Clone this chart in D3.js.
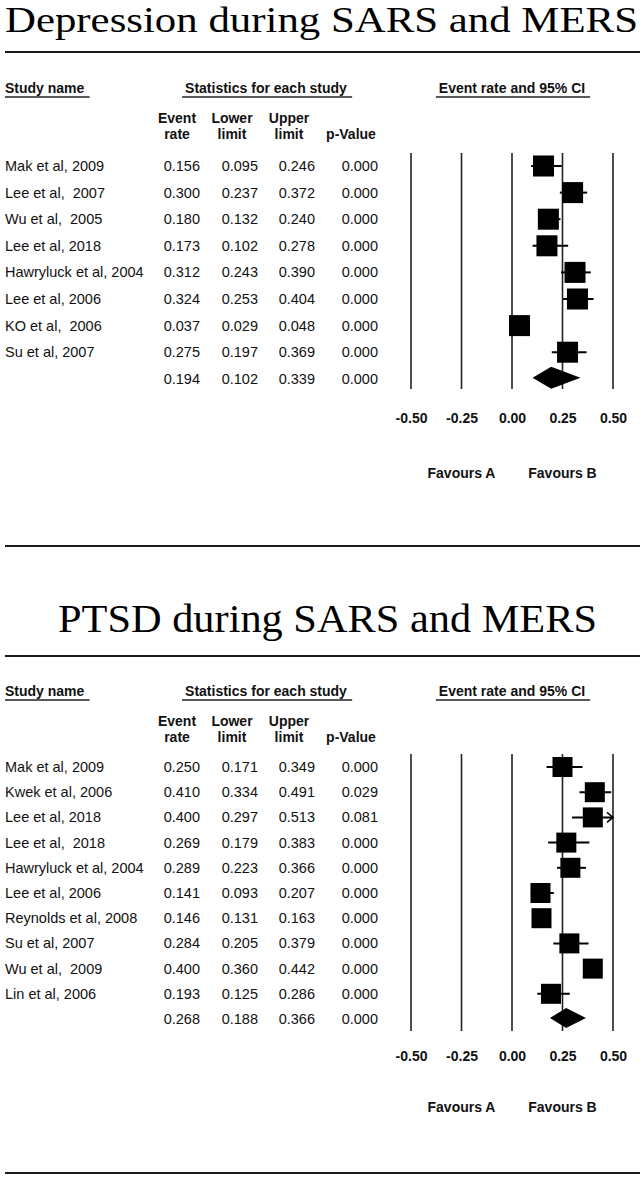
<!DOCTYPE html>
<html>
<head>
<meta charset="utf-8">
<script src="https://cdn.jsdelivr.net/npm/d3@7"></script>
<style>
html,body{margin:0;padding:0;background:#fff;}
svg{display:block;}
</style>
</head>
<body>
<svg id="chart" width="644" height="1180"></svg>
<script>
// ---------- DATA ----------
const depTitle = "Depression during SARS and MERS";
const depNames = ["Mak et al, 2009","Lee et al,  2007","Wu et al,  2005","Lee et al, 2018","Hawryluck et al, 2004","Lee et al, 2006","KO et al,  2006","Su et al, 2007"];
const depRate  = [0.156,0.300,0.180,0.173,0.312,0.324,0.037,0.275];
const depLower = [0.095,0.237,0.132,0.102,0.243,0.253,0.029,0.197];
const depUpper = [0.246,0.372,0.240,0.278,0.390,0.404,0.048,0.369];
const depP     = [0.000,0.000,0.000,0.000,0.000,0.000,0.000,0.000];
const depSummary = [0.194,0.102,0.339,0.000]; // rate, lower, upper, p

const ptsdTitle = "PTSD during SARS and MERS";
const ptsdNames = ["Mak et al, 2009","Kwek et al, 2006","Lee et al, 2018","Lee et al,  2018","Hawryluck et al, 2004","Lee et al, 2006","Reynolds et al, 2008","Su et al, 2007","Wu et al,  2009","Lin et al, 2006"];
const ptsdRate  = [0.250,0.410,0.400,0.269,0.289,0.141,0.146,0.284,0.400,0.193];
const ptsdLower = [0.171,0.334,0.297,0.179,0.223,0.093,0.131,0.205,0.360,0.125];
const ptsdUpper = [0.349,0.491,0.513,0.383,0.366,0.207,0.163,0.379,0.442,0.286];
const ptsdP     = [0.000,0.029,0.081,0.000,0.000,0.000,0.000,0.000,0.000,0.000];
const ptsdSummary = [0.268,0.188,0.366,0.000];

const tickValues = [-0.50,-0.25,0.00,0.25,0.50];
const favourLabels = ["Favours A","Favours B"];
const favourAt = [-0.25,0.25];
const colHeads = [["Event","rate"],["Lower","limit"],["Upper","limit"],["","p-Value"]];
const groupHeads = ["Study name","Statistics for each study","Event rate and 95% CI"];

// ---------- LAYOUT ----------
const svg = d3.select("#chart");
const sans = "'Liberation Sans', Arial, Helvetica, sans-serif";
const serif = "'Liberation Serif', 'Times New Roman', serif";
const ink = "#111";
const fmt = d3.format(".3f");
const tickFmt = d => d3.format(".2f")(d).replace("\u2212","-");
const x = d3.scaleLinear().domain([-0.5,0.5]).range([411,613]);
const xClamp = v => x(Math.max(-0.5, Math.min(0.5, v)));

const panels = [
  {title:depTitle, titleX:321.5, titleY:32, titleSize:36, titleLen:633, headY:93, ch1:123, ch2:139, row0:171, step:26.6,
   plotTop:153, plotBot:389, tickY:423, favY:478, sq:21, diaH:22,
   names:depNames, rate:depRate, lower:depLower, upper:depUpper, p:depP, sum:depSummary},
  {title:ptsdTitle, titleX:327.5, titleY:632, titleSize:39, titleLen:539, headY:696, ch1:726, ch2:742, row0:772, step:25.2,
   plotTop:754, plotBot:1031, tickY:1061, favY:1112, sq:20, diaH:20,
   names:ptsdNames, rate:ptsdRate, lower:ptsdLower, upper:ptsdUpper, p:ptsdP, sum:ptsdSummary}
];

// horizontal rules
[52,546,656,1173].forEach(y=>{
  svg.append("line").attr("x1",5).attr("x2",640).attr("y1",y).attr("y2",y)
    .attr("stroke","#1a1a1a").attr("stroke-width",2);
});

const valCols = [200,258,315,378];   // right edges of numeric columns
const headCenters = [177,232,289,351];
const fs = 14.5;

panels.forEach(P=>{
  const g = svg.append("g");
  // title
  g.append("text").attr("x",P.titleX).attr("y",P.titleY).attr("text-anchor","middle")
    .attr("font-family",serif).attr("font-size",P.titleSize).attr("fill","#000")
    .attr("textLength",P.titleLen).attr("lengthAdjust","spacingAndGlyphs")
    .text(P.title);

  // group headers with underline
  const gh = [{t:groupHeads[0],x:5,a:"start"},{t:groupHeads[1],x:266,a:"middle"},{t:groupHeads[2],x:512,a:"middle"}];
  gh.forEach(h=>{
    const t = g.append("text").attr("x",h.x).attr("y",P.headY).attr("text-anchor",h.a)
      .attr("font-family",sans).attr("font-weight","bold").attr("font-size",14).attr("fill",ink).text(h.t);
    const bb = t.node().getBBox();
    g.append("line").attr("x1",bb.x-(h.a==="start"?0:3)).attr("x2",bb.x+bb.width+5)
      .attr("y1",P.headY+4).attr("y2",P.headY+4).attr("stroke","#222").attr("stroke-width",1.5);
  });

  // column headers
  colHeads.forEach((c,i)=>{
    [c[0],c[1]].forEach((s,j)=>{
      if(!s) return;
      g.append("text").attr("x",headCenters[i]).attr("y",j===0?P.ch1:P.ch2)
        .attr("text-anchor","middle").attr("font-family",sans).attr("font-weight","bold")
        .attr("font-size",14).attr("fill",ink).text(s);
    });
  });

  const n = P.names.length;
  const yRow = d3.scaleLinear().domain([0,1]).range([P.row0, P.row0+P.step]);

  // rows text
  P.names.forEach((name,i)=>{
    const y = yRow(i);
    g.append("text").attr("x",5).attr("y",y).attr("font-family",sans).attr("font-size",fs)
      .attr("fill",ink).style("white-space","pre").attr("xml:space","preserve").text(name);
    [P.rate[i],P.lower[i],P.upper[i],P.p[i]].forEach((v,k)=>{
      g.append("text").attr("x",valCols[k]).attr("y",y).attr("text-anchor","end")
        .attr("font-family",sans).attr("font-size",fs).attr("fill",ink).text(fmt(v));
    });
  });
  // summary row text
  P.sum.forEach((v,k)=>{
    g.append("text").attr("x",valCols[k]).attr("y",yRow(n)).attr("text-anchor","end")
      .attr("font-family",sans).attr("font-size",fs).attr("fill",ink).text(fmt(v));
  });

  // vertical reference lines
  tickValues.forEach(t=>{
    g.append("line").attr("x1",x(t)).attr("x2",x(t)).attr("y1",P.plotTop).attr("y2",P.plotBot)
      .attr("stroke","#222").attr("stroke-width",1.6);
  });

  // CI lines, squares
  P.names.forEach((name,i)=>{
    const cy = yRow(i)-5;
    g.append("line").attr("x1",xClamp(P.lower[i])).attr("x2",xClamp(P.upper[i]))
      .attr("y1",cy).attr("y2",cy).attr("stroke","#000").attr("stroke-width",2);
    if(P.upper[i] > 0.5){
      const ax = x(0.5);
      g.append("path").attr("d",`M${ax-6},${cy-5}L${ax},${cy}L${ax-6},${cy+5}`)
        .attr("fill","none").attr("stroke","#000").attr("stroke-width",1.5);
    }
    if(P.lower[i] < -0.5){
      const ax = x(-0.5);
      g.append("path").attr("d",`M${ax+6},${cy-5}L${ax},${cy}L${ax+6},${cy+5}`)
        .attr("fill","none").attr("stroke","#000").attr("stroke-width",1.5);
    }
    g.append("rect").attr("x",x(P.rate[i])-P.sq/2).attr("y",cy-P.sq/2)
      .attr("width",P.sq).attr("height",P.sq).attr("fill","#000");
  });

  // summary diamond
  const dy = yRow(n)-6;
  const h = P.diaH/2;
  g.append("path")
    .attr("d",`M${x(P.sum[1])},${dy}L${x(P.sum[0])},${dy-h}L${x(P.sum[2])},${dy}L${x(P.sum[0])},${dy+h}Z`)
    .attr("fill","#000");

  // tick labels through axis
  const ax = g.append("g").attr("transform",`translate(0,${P.tickY-10})`)
    .call(d3.axisBottom(x).tickValues(tickValues).tickSize(0).tickPadding(0).tickFormat(tickFmt));
  ax.select(".domain").remove();
  ax.selectAll("text").attr("font-family",sans).attr("font-weight","bold").attr("font-size",14).attr("fill",ink);

  // favours labels
  favourLabels.forEach((f,i)=>{
    g.append("text").attr("x",x(favourAt[i])).attr("y",P.favY).attr("text-anchor","middle")
      .attr("font-family",sans).attr("font-weight","bold").attr("font-size",14).attr("fill",ink).text(f);
  });
});
</script>
</body>
</html>
